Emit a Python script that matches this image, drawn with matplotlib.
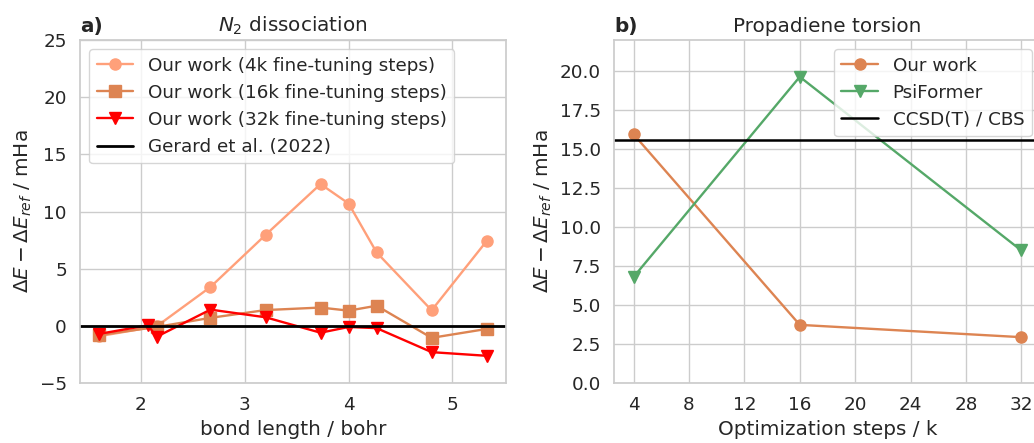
import matplotlib
matplotlib.use('Agg')
import matplotlib.pyplot as plt
import seaborn as sns

# panel a) N2 dissociation
bond = [1.6, 2.15, 2.67, 3.2, 3.73, 4.0, 4.27, 4.8, 5.33]
bond_32k = [1.6, 2.068, 2.15, 2.67, 3.2, 3.73, 4.0, 4.27, 4.8, 5.33]
err_4k = [-0.9, -0.05, 3.4, 7.95, 12.4, 10.7, 6.42, 1.36, 7.42]
err_16k = [-0.8, -0.1, 0.7, 1.38, 1.6, 1.33, 1.76, -1.05, -0.27]
err_32k = [-0.7, 0.05, -0.96, 1.42, 0.75, -0.6, -0.1, -0.2, -2.3, -2.62]
gerard = 0.0

# panel b) propadiene torsion
steps = [4, 16, 32]
ours_b = [15.95, 3.73, 2.94]
psiformer = [6.8, 19.64, 8.5]
ccsdt = 15.6

sns.set_theme(style='whitegrid', context='notebook', font_scale=1.2)
plt.rcParams['font.family'] = ['DejaVu Sans']
plt.rcParams['mathtext.fontset'] = 'dejavusans'
plt.rcParams['lines.linewidth'] = 1.7

fig = plt.figure(figsize=(10.34, 4.43), dpi=100)
ax1 = fig.add_axes([0.0774, 0.1354, 0.412, 0.7743])
ax2 = fig.add_axes([0.594, 0.1354, 0.4125, 0.7743])

ylab = r'$\Delta E - \Delta E_{ref}$ / mHa'

ax1.plot(bond, err_4k, marker='o', color='lightsalmon', ms=8, label='Our work (4k fine-tuning steps)')
ax1.plot(bond, err_16k, marker='s', color='#DD8452', ms=8, label='Our work (16k fine-tuning steps)')
ax1.plot(bond_32k, err_32k, marker='v', color='red', ms=8, label='Our work (32k fine-tuning steps)')
ax1.axhline(gerard, color='black', lw=2, label='Gerard et al. (2022)')
ax1.set_ylim(-5, 25)
ax1.set_xticks([2, 3, 4, 5])
ax1.set_xlabel('bond length / bohr')
ax1.set_ylabel(ylab)
ax1.set_title(r'$N_2$ dissociation')
ax1.set_title('a)', loc='left', fontweight='bold')
ax1.legend(loc='upper left')

ax2.plot(steps, ours_b, marker='o', color='#DD8452', ms=8, label='Our work')
ax2.plot(steps, psiformer, marker='v', color='#55A868', ms=8, label='PsiFormer')
ax2.axhline(ccsdt, color='black', lw=1.8, label='CCSD(T) / CBS')
ax2.set_ylim(0, 22)
ax2.set_xticks(range(4, 33, 4))
ax2.set_xlabel('Optimization steps / k')
ax2.set_ylabel(ylab)
ax2.set_title('Propadiene torsion')
ax2.set_title('b)', loc='left', fontweight='bold')
ax2.legend(loc='upper right')

fig.savefig('out.png', dpi=100)
